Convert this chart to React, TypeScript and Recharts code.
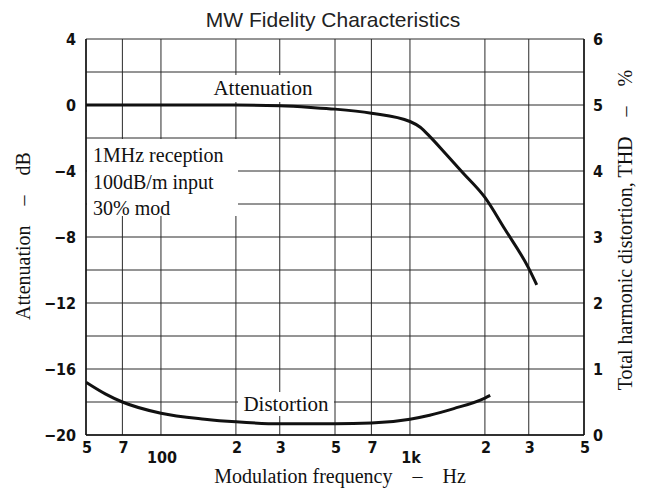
import React from 'react';
import { LineChart, Line, XAxis, YAxis, CartesianGrid } from 'recharts';

// frequency ticks (log scale) and the labels printed under them
const xTicks = [50, 70, 100, 200, 300, 500, 700, 1000, 2000, 3000, 5000];
const xLabels = ['5', '7', '100', '2', '3', '5', '7', '1k', '2', '3', '5'];
const dbTicks = [-20, -18, -16, -14, -12, -10, -8, -6, -4, -2, 0, 2, 4];
const thdTicks = [0, 1, 2, 3, 4, 5, 6];

// attenuation curve, dB
const attenFreq = [50, 100, 200, 300, 400, 500, 700, 1000, 1100, 1200, 1400, 1630, 2000, 2400, 3000, 3230];
const attenDb = [0, 0, 0, -0.05, -0.15, -0.25, -0.5, -1.0, -1.35, -1.9, -3.0, -4.1, -5.6, -7.5, -9.9, -10.9];

// distortion curve, THD %
const distFreq = [50, 60, 70, 100, 150, 200, 300, 500, 700, 1000, 1200, 1500, 2000, 2100];
const distPct = [0.8, 0.62, 0.5, 0.33, 0.24, 0.2, 0.17, 0.17, 0.18, 0.24, 0.3, 0.4, 0.56, 0.6];

const attenData = attenFreq.map((f, i) => ({ f, v: attenDb[i] }));
const distData = distFreq.map((f, i) => ({ f, v: distPct[i] }));

const tickFont = "'DejaVu Sans Condensed', 'DejaVu Sans', sans-serif";
const serif = "'Liberation Serif', 'Times New Roman', serif";
const ink = '#111';

const XTick = (props: any) => {
  const { x, y, payload } = props;
  const i = xTicks.indexOf(payload.value);
  const low = payload.value === 100 || payload.value === 1000;
  return (
    <text
      x={x + 1}
      y={y + (low ? 22 : 12)}
      textAnchor="middle"
      dominantBaseline="central"
      fontFamily={tickFont}
      fontWeight="bold"
      fontSize={16}
      fill={ink}
    >
      {xLabels[i]}
    </text>
  );
};

const fmtDb = (v: number) => (v % 4 !== 0 ? '' : v < 0 ? '\u2212' + Math.abs(v) : String(v));

const Notes = () => (
  <g fontFamily={serif} fill={ink}>
    <rect x={208} y={75} width={108} height={27} fill="#fff" />
    <text x={263} y={88} fontSize={21} textAnchor="middle" dominantBaseline="central">Attenuation</text>
    <rect x={238} y={392} width={96} height={24} fill="#fff" />
    <text x={286} y={404} fontSize={21} textAnchor="middle" dominantBaseline="central">Distortion</text>
    <rect x={87} y={139} width={151} height={77} fill="#fff" />
    <text x={93} y={155} fontSize={20} dominantBaseline="central">1MHz reception</text>
    <text x={93} y={182} fontSize={20} dominantBaseline="central">100dB/m input</text>
    <text x={93} y={208} fontSize={20} dominantBaseline="central">30% mod</text>
  </g>
);

const Titles = () => (
  <g fill={ink}>
    <text x={333} y={19} fontSize={21} textAnchor="middle" dominantBaseline="central"
      fontFamily="'Liberation Sans', Arial, sans-serif" fill="#222">
      MW Fidelity Characteristics
    </text>
    <text x={340} y={476} fontSize={20} textAnchor="middle" dominantBaseline="central" fontFamily={serif}>
      {'Modulation frequency\u2003\u2013\u2003Hz'}
    </text>
    <text x={23} y={236} fontSize={20} textAnchor="middle" dominantBaseline="central" fontFamily={serif}
      transform="rotate(-90 23 236)">
      {'Attenuation\u2003\u2013\u2003dB'}
    </text>
    <text x={625} y={230} fontSize={20} textAnchor="middle" dominantBaseline="central" fontFamily={serif}
      transform="rotate(-90 625 230)">
      {'Total harmonic distortion, THD\u2003\u2013\u2003%'}
    </text>
  </g>
);

export default function App() {
  return (
    <div style={{ position: 'absolute', left: 0, top: 0 }}>
      <LineChart width={645} height={490} margin={{ top: 39, right: 0, bottom: 0, left: 0 }}>
        <CartesianGrid yAxisId="left" stroke="#2a2a2a" strokeWidth={1} />
        <XAxis
          dataKey="f"
          type="number"
          scale="log"
          domain={[50, 5000]}
          ticks={xTicks}
          interval={0}
          allowDataOverflow
          height={55}
          tickLine={false}
          tickSize={0}
          tickMargin={0}
          tick={<XTick />}
          axisLine={{ stroke: ink, strokeWidth: 1.5 }}
        />
        <YAxis
          yAxisId="left"
          width={86}
          domain={[-20, 4]}
          ticks={dbTicks}
          interval={0}
          tickFormatter={fmtDb}
          tickLine={false}
          tickSize={0}
          tickMargin={10}
          axisLine={{ stroke: ink, strokeWidth: 1.5 }}
          tick={{ fontFamily: tickFont, fontWeight: 'bold', fontSize: 16, fill: ink }}
        />
        <YAxis
          yAxisId="right"
          orientation="right"
          width={61}
          domain={[0, 6]}
          ticks={thdTicks}
          interval={0}
          tickLine={false}
          tickSize={0}
          tickMargin={9}
          axisLine={{ stroke: ink, strokeWidth: 1.5 }}
          tick={{ fontFamily: tickFont, fontWeight: 'bold', fontSize: 16, fill: ink }}
        />
        <Notes />
        <Line
          yAxisId="left"
          data={attenData}
          dataKey="v"
          type="monotone"
          stroke={ink}
          strokeWidth={3}
          dot={false}
          isAnimationActive={false}
        />
        <Line
          yAxisId="right"
          data={distData}
          dataKey="v"
          type="monotone"
          stroke={ink}
          strokeWidth={3}
          dot={false}
          isAnimationActive={false}
        />
        <Titles />
      </LineChart>
    </div>
  );
}
